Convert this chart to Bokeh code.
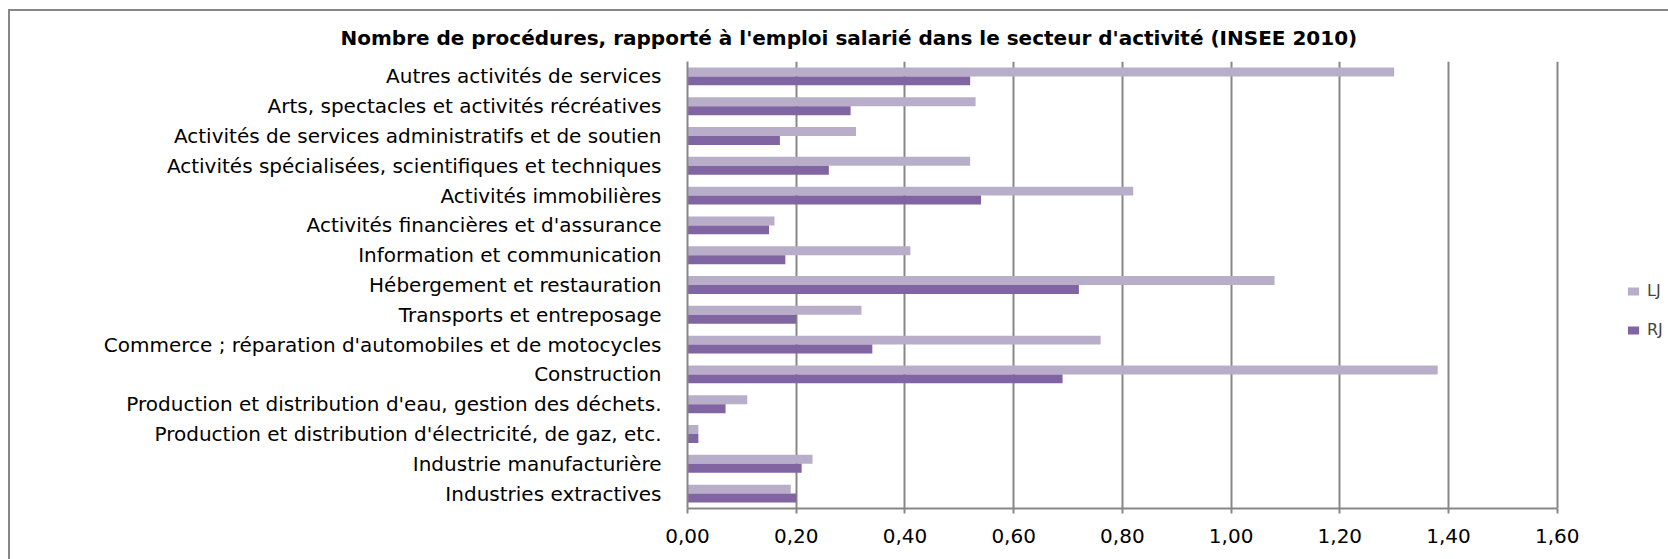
from bokeh.plotting import figure
from bokeh.models import (FactorRange, Range1d, Legend, LegendItem,
                          FixedTicker, ColumnDataSource)
from bokeh.transform import dodge
from bokeh.embed import file_html
from bokeh.resources import INLINE

# ---------------- data (top to bottom as in the chart) ----------------
categories = [
    "Autres activités de services",
    "Arts, spectacles et activités récréatives",
    "Activités de services administratifs et de soutien",
    "Activités spécialisées, scientifiques et techniques",
    "Activités immobilières",
    "Activités financières et d'assurance",
    "Information et communication",
    "Hébergement et restauration",
    "Transports et entreposage",
    "Commerce ; réparation d'automobiles et de motocycles",
    "Construction",
    "Production et distribution d'eau, gestion des déchets.",
    "Production et distribution d'électricité, de gaz, etc.",
    "Industrie manufacturière",
    "Industries extractives",
]
lj_values = [1.30, 0.53, 0.31, 0.52, 0.82, 0.16, 0.41, 1.08, 0.32, 0.76, 1.38, 0.11, 0.02, 0.23, 0.19]
rj_values = [0.52, 0.30, 0.17, 0.26, 0.54, 0.15, 0.18, 0.72, 0.20, 0.34, 0.69, 0.07, 0.02, 0.21, 0.20]
series_names = ["LJ", "RJ"]
xtick_values = [0.0, 0.2, 0.4, 0.6, 0.8, 1.0, 1.2, 1.4, 1.6]
xtick_labels = ["0,00", "0,20", "0,40", "0,60", "0,80", "1,00", "1,20", "1,40", "1,60"]
title_text = "Nombre de procédures, rapporté à l'emploi salarié dans le secteur d'activité (INSEE 2010)"

LJ_COLOR = "#B9AECA"
RJ_COLOR = "#8164A2"
GRID = "#878787"
FONT = "DejaVu Sans"

src = ColumnDataSource(dict(cat=categories, lj=lj_values, rj=rj_values))

# The plot area spans the right-hand legend zone too; the value axis stops at 1.60.
W, H = 1660, 550
BORDER_LEFT = 677
AXIS_PX = 868          # pixel length of the 0 -> 1.60 value axis
frame_px = (W - 2) - BORDER_LEFT
x_end = xtick_values[-1] * frame_px / AXIS_PX

p = figure(width=W, height=H, output_backend="svg", toolbar_location=None,
           y_range=FactorRange(factors=list(reversed(categories)), range_padding=0),
           x_range=Range1d(xtick_values[0], x_end),
           min_border_left=BORDER_LEFT, min_border_right=0,
           min_border_top=50, min_border_bottom=53)
p.styles = {"margin-left": "8px", "margin-top": "9px",
            "border-left": "2px solid #878787", "border-top": "2px solid #878787"}
p.outline_line_color = None
p.background_fill_color = "white"
p.border_fill_color = "white"

r_lj = p.hbar(y=dodge("cat", 0.15, range=p.y_range), left=0, right="lj", height=0.3,
              fill_color=LJ_COLOR, line_color=None, source=src)
r_rj = p.hbar(y=dodge("cat", -0.15, range=p.y_range), left=0, right="rj", height=0.3,
              fill_color=RJ_COLOR, line_color=None, source=src)

# title
p.title.text = title_text
p.title.text_font = FONT
p.title.text_font_style = "bold"
p.title.text_font_size = "20px"
p.title.text_color = "black"
p.title.align = "left"
p.title.offset = -347
p.title.vertical_align = "bottom"
p.title.standoff = 24

# x axis
p.xaxis.ticker = FixedTicker(ticks=xtick_values)
p.xaxis.bounds = (xtick_values[0], xtick_values[-1])
p.xaxis.major_label_overrides = {v: l for v, l in zip(xtick_values, xtick_labels)}
p.xaxis.major_label_text_font = FONT
p.xaxis.major_label_text_font_size = "20px"
p.xaxis.major_label_text_color = "black"
p.xaxis.major_label_standoff = 15
p.xaxis.axis_line_color = GRID
p.xaxis.axis_line_width = 2
p.xaxis.major_tick_line_color = GRID
p.xaxis.major_tick_line_width = 2
p.xaxis.major_tick_out = 5
p.xaxis.major_tick_in = 0
p.xaxis.minor_tick_line_color = None

# y axis
p.yaxis.major_label_text_font = FONT
p.yaxis.major_label_text_font_size = "20px"
p.yaxis.major_label_text_color = "black"
p.yaxis.major_label_standoff = 20
p.yaxis.axis_line_color = GRID
p.yaxis.axis_line_width = 2
p.yaxis.major_tick_line_color = None
p.yaxis.minor_tick_line_color = None

p.xgrid.grid_line_color = GRID
p.xgrid.grid_line_width = 2
p.ygrid.grid_line_color = None

# legend at the right edge
legend = Legend(items=[LegendItem(label=series_names[0], renderers=[r_lj]),
                       LegendItem(label=series_names[1], renderers=[r_rj])],
                location=(939, 169), orientation="vertical",
                padding=0, margin=0, spacing=20, border_line_color=None,
                background_fill_alpha=0, glyph_width=14, glyph_height=10,
                label_height=10, label_standoff=7,
                label_text_font=FONT, label_text_font_size="16px")
p.add_layout(legend, "center")

open("out.html", "w").write(file_html(p, INLINE))
